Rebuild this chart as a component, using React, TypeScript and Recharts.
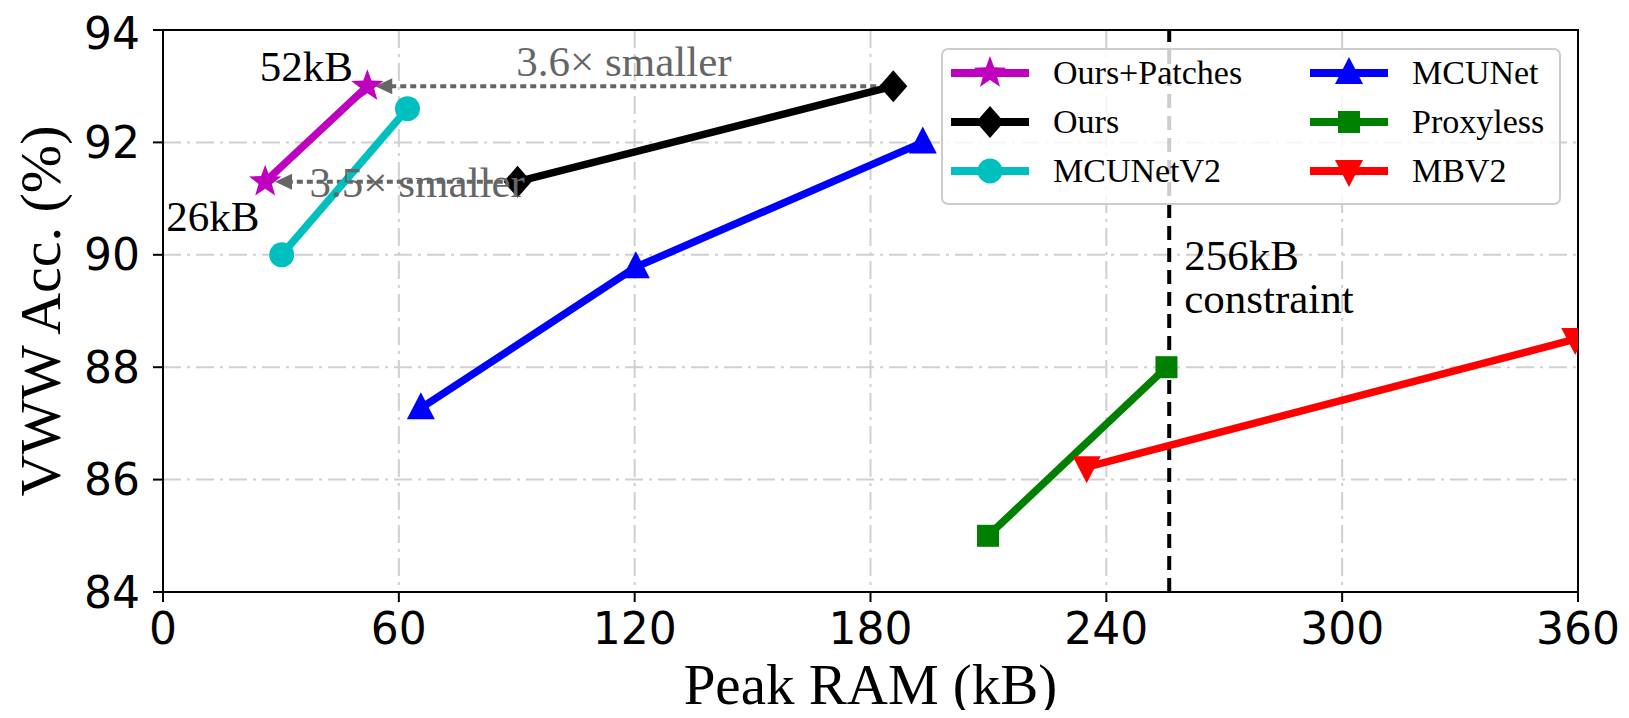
import React from "react"
import {
  ScatterChart,
  Scatter,
  XAxis,
  YAxis,
  CartesianGrid,
  ReferenceLine,
  ReferenceDot,
  ReferenceArea,
} from "recharts"

// peak RAM (kB) / VWW accuracy (%) per model family
const oursPatchesRam = [26, 52]
const oursPatchesAcc = [91.3, 93.0]
const oursRam = [90.2, 185.8]
const oursAcc = [91.3, 93.0]
const mcunetV2Ram = [30.2, 62.2]
const mcunetV2Acc = [90.0, 92.6]
const mcunetRam = [65.6, 120.3, 193.3]
const mcunetAcc = [87.27, 89.78, 92.0]
const proxylessRam = [209.9, 255.3]
const proxylessAcc = [85.0, 88.0]
const mbv2Ram = [235, 359.3]
const mbv2Acc = [86.22, 88.5]

const xTicks = [0, 60, 120, 180, 240, 300, 360]
const yTicks = [84, 86, 88, 90, 92, 94]
const constraintRam = 256

const FONT_SERIF = "'Liberation Serif', 'Times New Roman', serif"
const FONT_SANS = "'DejaVu Sans', sans-serif"

const zip = (xs: number[], ys: number[]) => xs.map((x, i) => ({ ram: x, acc: ys[i] }))

type MarkerKind = "star" | "diamond" | "circle" | "triUp" | "square" | "triDown"

const series = [
  { name: "Ours+Patches", color: "#bf00bf", marker: "star" as MarkerKind, data: zip(oursPatchesRam, oursPatchesAcc) },
  { name: "Ours", color: "#000000", marker: "diamond" as MarkerKind, data: zip(oursRam, oursAcc) },
  { name: "MCUNetV2", color: "#00bfbf", marker: "circle" as MarkerKind, data: zip(mcunetV2Ram, mcunetV2Acc) },
  { name: "MCUNet", color: "#0000ff", marker: "triUp" as MarkerKind, data: zip(mcunetRam, mcunetAcc) },
  { name: "Proxyless", color: "#008000", marker: "square" as MarkerKind, data: zip(proxylessRam, proxylessAcc) },
  { name: "MBV2", color: "#ff0000", marker: "triDown" as MarkerKind, data: zip(mbv2Ram, mbv2Acc) },
]

// draw order like the original plot
const drawOrder = ["MCUNet", "Proxyless", "MBV2", "MCUNetV2", "Ours", "Ours+Patches"]

function Marker({ kind, cx, cy, color }: { kind: MarkerKind; cx: number; cy: number; color: string }) {
  if (kind === "star") {
    const pts: string[] = []
    for (let i = 0; i < 10; i++) {
      const r = i % 2 === 0 ? 17 : 7
      const a = -Math.PI / 2 + (i * Math.PI) / 5
      pts.push(`${cx + r * Math.cos(a)},${cy + r * Math.sin(a)}`)
    }
    return <polygon points={pts.join(" ")} fill={color} />
  }
  if (kind === "diamond") {
    return <polygon points={`${cx},${cy - 16} ${cx + 14},${cy} ${cx},${cy + 16} ${cx - 14},${cy}`} fill={color} />
  }
  if (kind === "circle") return <circle cx={cx} cy={cy} r={12.5} fill={color} />
  if (kind === "square") return <rect x={cx - 11} y={cy - 11} width={22} height={22} fill={color} />
  if (kind === "triUp") {
    return <polygon points={`${cx},${cy - 16} ${cx + 14},${cy + 11} ${cx - 14},${cy + 11}`} fill={color} />
  }
  return <polygon points={`${cx},${cy + 16} ${cx + 14},${cy - 11} ${cx - 14},${cy - 11}`} fill={color} />
}

const arrowHead = (p: any) => (
  <polygon points={`${p.cx},${p.cy} ${p.cx + 17},${p.cy - 8} ${p.cx + 17},${p.cy + 8}`} fill="#666666" />
)

const textAt = (label: string, color: string) => (p: any) => (
  <text x={p.cx} y={p.cy} fill={color} fontFamily={FONT_SERIF} fontSize={43}>
    {label}
  </text>
)

function YLabel(props: any) {
  const vb = props.viewBox
  const cx = 52
  const cy = vb.y + vb.height / 2
  return (
    <text
      x={cx}
      y={cy}
      transform={`rotate(-90, ${cx}, ${cy})`}
      textAnchor="middle"
      fontFamily={FONT_SERIF}
      fontSize={58}
      fill="#000"
    >
      VWW Acc. (%)
    </text>
  )
}

function XLabel(props: any) {
  const vb = props.viewBox
  return (
    <text x={vb.x + vb.width / 2} y={696} textAnchor="middle" fontFamily={FONT_SERIF} fontSize={57} fill="#000">
      Peak RAM (kB)
    </text>
  )
}

function LegendBox() {
  return (
    <svg width={620} height={157} style={{ position: "absolute", left: 933, top: 40 }}>
      <rect x={1} y={1} width={618} height={155} rx={6} fill="rgba(255,255,255,0.8)" stroke="#cccccc" strokeWidth={2} />
      {series.map((s, i) => {
        const col = Math.floor(i / 3)
        const row = i % 3
        const x0 = 10 + col * 359
        const cy = 25 + row * 49
        return (
          <g key={s.name}>
            <line x1={x0} y1={cy} x2={x0 + 78} y2={cy} stroke={s.color} strokeWidth={8} />
            <Marker kind={s.marker} cx={x0 + 39} cy={cy} color={s.color} />
            <text x={x0 + 102} y={cy + 11} fontFamily={FONT_SERIF} fontSize={34} fill="#000">
              {s.name}
            </text>
          </g>
        )
      })}
    </svg>
  )
}

export default function App() {
  const ordered = drawOrder.map((n) => series.find((s) => s.name === n)!)
  return (
    <div style={{ position: "relative", width: 1613, height: 702 }}>
      <ScatterChart width={1613} height={702} margin={{ top: 22, right: 43, bottom: 0, left: 0 }}>
        <CartesianGrid stroke="#d0d0d0" strokeWidth={2} strokeDasharray="18 6 3 6" />
        <XAxis
          type="number"
          dataKey="ram"
          domain={[0, 360]}
          ticks={xTicks}
          allowDataOverflow
          height={118}
          tickSize={10}
          tickMargin={11}
          axisLine={{ stroke: "#000", strokeWidth: 2 }}
          tickLine={{ stroke: "#000", strokeWidth: 2 }}
          tick={{ fill: "#000", fontSize: 44, fontFamily: FONT_SANS }}
          label={(p: any) => <XLabel {...p} />}
        />
        <YAxis
          type="number"
          dataKey="acc"
          domain={[84, 94]}
          ticks={yTicks}
          allowDataOverflow
          width={155}
          tickSize={10}
          tickMargin={13}
          axisLine={{ stroke: "#000", strokeWidth: 2 }}
          tickLine={{ stroke: "#000", strokeWidth: 2 }}
          tick={{ fill: "#000", fontSize: 44, fontFamily: FONT_SANS }}
          label={(p: any) => <YLabel {...p} />}
        />
        <ReferenceArea x1={0} x2={360} y1={84} y2={94} fill="none" stroke="#000" strokeWidth={2} />
        <ReferenceLine x={constraintRam} stroke="#000" strokeWidth={4} strokeDasharray="14 8" />
        {ordered.map((s) => (
          <Scatter
            key={s.name}
            name={s.name}
            data={s.data}
            fill={s.color}
            line={{ stroke: s.color, strokeWidth: 7.5 }}
            lineType="joint"
            isAnimationActive={false}
            shape={(p: any) => <Marker kind={s.marker} cx={p.cx} cy={p.cy} color={s.color} />}
          />
        ))}
        <ReferenceLine
          segment={[{ x: 184, y: 93.0 }, { x: 58, y: 93.0 }]}
          stroke="#666666"
          strokeWidth={4}
          strokeDasharray="6 4"
        />
        <ReferenceLine
          segment={[{ x: 89, y: 91.3 }, { x: 32, y: 91.3 }]}
          stroke="#666666"
          strokeWidth={4}
          strokeDasharray="6 4"
        />
        <ReferenceDot x={54} y={93.0} shape={arrowHead} />
        <ReferenceDot x={28.5} y={91.3} shape={arrowHead} />
        <ReferenceDot x={24.6} y={93.09} shape={textAt("52kB", "#000")} />
        <ReferenceDot x={0.8} y={90.43} shape={textAt("26kB", "#000")} />
        <ReferenceDot x={89.9} y={93.18} shape={textAt("3.6× smaller", "#666666")} />
        <ReferenceDot x={37.3} y={91.02} shape={textAt("3.5× smaller", "#666666")} />
        <ReferenceDot x={259.8} y={89.73} shape={textAt("256kB", "#000")} />
        <ReferenceDot x={259.8} y={88.97} shape={textAt("constraint", "#000")} />
      </ScatterChart>
      <LegendBox />
    </div>
  )
}
